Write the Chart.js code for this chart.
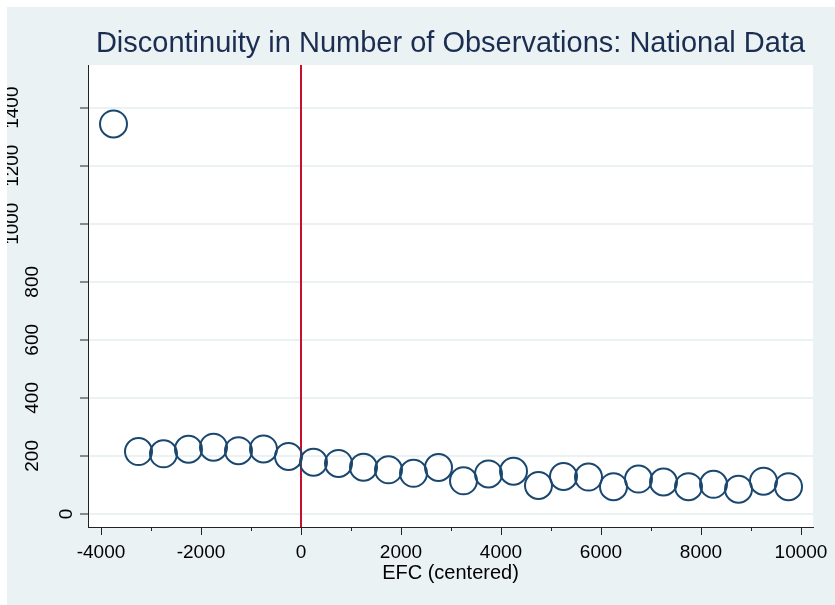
<!DOCTYPE html>
<html>
<head>
<meta charset="utf-8">
<script src="https://cdn.jsdelivr.net/npm/chart.js@4.4.1/dist/chart.umd.min.js"></script>
<style>
  html, body { margin: 0; padding: 0; background: #fff; }
  #frame { position: absolute; left: 7px; top: 7px; width: 828px; height: 598px; background: #eaf2f3; }
  canvas { display: block; }
</style>
</head>
<body>
<div id="frame"><canvas id="chart" width="828" height="598"></canvas></div>
<script>
// EFC bins (500 wide), centred on the cutoff
const binCenters = [-3750, -3250, -2750, -2250, -1750, -1250, -750, -250,
  250, 750, 1250, 1750, 2250, 2750, 3250, 3750, 4250, 4750,
  5250, 5750, 6250, 6750, 7250, 7750, 8250, 8750, 9250, 9750];
const obsCounts = [1344, 215, 207, 223, 230, 218, 224, 198,
  178, 174, 161, 152, 140, 160, 114, 138, 147, 98,
  129, 127, 94, 120, 110, 94, 102, 85, 113, 94];

const xTicks = [-4000, -3000, -2000, -1000, 0, 1000, 2000, 3000, 4000, 5000, 6000, 7000, 8000, 9000, 10000];
const xLabelled = [-4000, -2000, 0, 2000, 4000, 6000, 8000, 10000];
const yTicks = [0, 200, 400, 600, 800, 1000, 1200, 1400];
const xRange = [-4260, 10240];
const yRange = [-45, 1547];
const cutoff = 0;

const FONT = "'Liberation Sans', Arial, sans-serif";
const NAVY = '#1a476f';
const AXIS = '#222';

// stata puts the rotated y labels further left the longer they are
const yLabelGap = { 1: 16.5, 2: 33, 3: 50.5, 4: 69.7 };

const stataLook = {
  id: 'stataLook',
  beforeDraw(chart) {
    const { ctx, chartArea: a } = chart;
    ctx.save();
    ctx.fillStyle = '#fff';
    ctx.fillRect(a.left, a.top, a.right - a.left, a.bottom - a.top);
    ctx.restore();
  },
  afterDraw(chart) {
    const { ctx, chartArea: a } = chart;
    const x = chart.scales.x, y = chart.scales.y;
    ctx.save();
    // minor x ticks
    ctx.strokeStyle = AXIS;
    ctx.lineWidth = 1;
    xTicks.filter(v => !xLabelled.includes(v)).forEach(v => {
      const px = Math.round(x.getPixelForValue(v)) + 0.5;
      ctx.beginPath();
      ctx.moveTo(px, a.bottom);
      ctx.lineTo(px, a.bottom + 4);
      ctx.stroke();
    });
    // vertical y labels
    ctx.fillStyle = '#000';
    ctx.font = '19px ' + FONT;
    ctx.textAlign = 'center';
    ctx.textBaseline = 'alphabetic';
    yTicks.forEach(v => {
      const s = String(v);
      ctx.save();
      ctx.translate(a.left - yLabelGap[s.length], y.getPixelForValue(v));
      ctx.rotate(-Math.PI / 2);
      ctx.fillText(s, 0, 0);
      ctx.restore();
    });
    ctx.restore();
  }
};

new Chart(document.getElementById('chart'), {
  type: 'scatter',
  data: {
    datasets: [
      {
        data: binCenters.map((b, i) => ({ x: b, y: obsCounts[i] })),
        pointRadius: 13.5,
        pointBorderWidth: 2,
        borderColor: NAVY,
        backgroundColor: 'rgba(0,0,0,0)',
        order: 1
      },
      {
        type: 'line',
        data: [{ x: cutoff, y: yRange[0] }, { x: cutoff, y: yRange[1] }],
        borderColor: '#c8102e',
        borderWidth: 2,
        pointRadius: 0,
        order: 2
      }
    ]
  },
  options: {
    responsive: false,
    animation: false,
    layout: { padding: { left: 0, top: 0, right: 22, bottom: 0 } },
    plugins: {
      legend: { display: false },
      tooltip: { enabled: false },
      title: {
        display: true,
        fullSize: false,
        text: 'Discontinuity in Number of Observations: National Data',
        color: '#1c2d52',
        font: { family: FONT, size: 29, weight: 'normal', lineHeight: 1 },
        padding: { top: 22.5, bottom: 6.5 }
      }
    },
    scales: {
      x: {
        type: 'linear',
        min: xRange[0], max: xRange[1],
        afterBuildTicks: s => { s.ticks = xTicks.map(v => ({ value: v })); },
        afterFit: s => { s.height = 78; },
        border: { color: AXIS, width: 1 },
        grid: {
          drawOnChartArea: false,
          tickLength: 8,
          tickColor: c => xLabelled.includes(c.tick.value) ? AXIS : 'rgba(0,0,0,0)'
        },
        ticks: {
          autoSkip: false, maxRotation: 0, padding: 6,
          color: '#000',
          font: { family: FONT, size: 19 },
          callback: v => xLabelled.includes(v) ? String(v) : ''
        },
        title: {
          display: true,
          text: 'EFC (centered)',
          color: '#000',
          font: { family: FONT, size: 20 },
          padding: { top: 0, bottom: 19.5 }
        }
      },
      y: {
        type: 'linear',
        min: yRange[0], max: yRange[1],
        afterBuildTicks: s => { s.ticks = yTicks.map(v => ({ value: v })); },
        afterFit: s => { s.width = 81; },
        border: { color: AXIS, width: 1 },
        grid: { color: '#eaf2f3', lineWidth: 2, tickLength: 8, tickColor: AXIS, tickWidth: 1 },
        ticks: { display: false }
      }
    }
  },
  plugins: [stataLook]
});
</script>
</body>
</html>
